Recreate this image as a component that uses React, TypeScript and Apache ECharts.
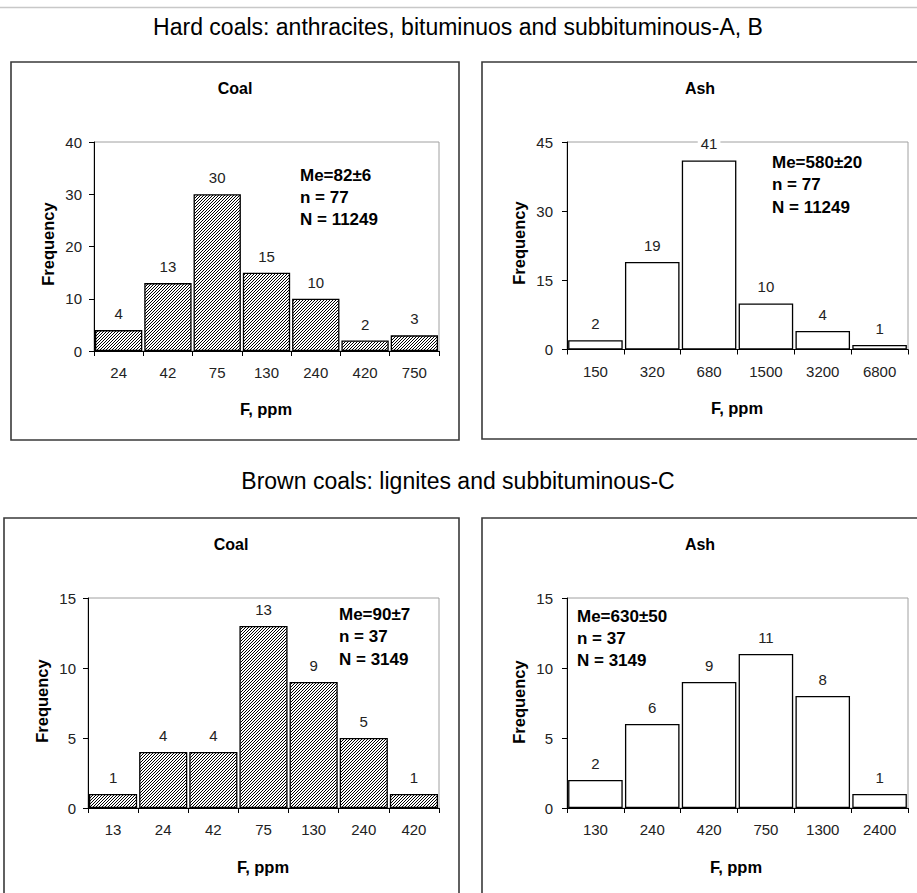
import React, { useEffect, useRef } from 'react';
import * as echarts from 'echarts';

const W = 917;
const H = 893;

// ---- data ----
const hardCoalCats = ['24', '42', '75', '130', '240', '420', '750'];
const hardCoalFreq = [4, 13, 30, 15, 10, 2, 3];
const hardAshCats = ['150', '320', '680', '1500', '3200', '6800'];
const hardAshFreq = [2, 19, 41, 10, 4, 1];
const brownCoalCats = ['13', '24', '42', '75', '130', '240', '420'];
const brownCoalFreq = [1, 4, 4, 13, 9, 5, 1];
const brownAshCats = ['130', '240', '420', '750', '1300', '2400'];
const brownAshFreq = [2, 6, 9, 11, 8, 1];

const yMaxes = [40, 45, 15, 15];
const yIntervals = [10, 15, 5, 5];

const statsHardCoal = ['Me=82±6', 'n = 77', 'N = 11249'];
const statsHardAsh = ['Me=580±20', 'n = 77', 'N = 11249'];
const statsBrownCoal = ['Me=90±7', 'n = 37', 'N = 3149'];
const statsBrownAsh = ['Me=630±50', 'n = 37', 'N = 3149'];

const titleHard = 'Hard coals: anthracites, bituminuos and subbituminous-A, B';
const titleBrown = 'Brown coals: lignites and subbituminous-C';
const panelTitles = ['Coal', 'Ash', 'Coal', 'Ash'];
const yName = 'Frequency';
const xName = 'F, ppm';

// ---- layout ----
const layout = [
  { grid: { left: 94, top: 142, width: 345, height: 209 }, box: [11, 62, 448, 378], title: [235, 88], stats: [300, 175], yName: [48, 244], xName: [266, 409], yMargin: 12, hatched: true },
  { grid: { left: 567, top: 142, width: 341, height: 207.5 }, box: [482, 62, 440, 377], title: [700, 88], stats: [772, 162.5], yName: [519, 243], xName: [737, 408], yMargin: 14, hatched: false },
  { grid: { left: 88, top: 598, width: 351, height: 210 }, box: [4, 518, 455, 400], title: [231, 544], stats: [339, 614.5], yName: [42, 701], xName: [263, 867], yMargin: 12, hatched: true },
  { grid: { left: 567, top: 598, width: 341, height: 210 }, box: [482, 518, 440, 400], title: [700, 544], stats: [577, 616], yName: [519, 702], xName: [736, 867], yMargin: 14, hatched: false },
];

const catsList = [hardCoalCats, hardAshCats, brownCoalCats, brownAshCats];
const valsList = [hardCoalFreq, hardAshFreq, brownCoalFreq, brownAshFreq];
const statsList = [statsHardCoal, statsHardAsh, statsBrownCoal, statsBrownAsh];

const SANS = 'Liberation Sans';

function makeHatch(): string {
  const c = document.createElement('canvas');
  c.width = 3;
  c.height = 3;
  const ctx = c.getContext('2d')!;
  ctx.fillStyle = '#fff';
  ctx.fillRect(0, 0, 3, 3);
  ctx.fillStyle = '#000';
  ctx.fillRect(0, 2, 1, 1);
  ctx.fillRect(1, 1, 1, 1);
  ctx.fillRect(2, 0, 1, 1);
  return c.toDataURL();
}

function txt(text: string, x: number, y: number, opts: any = {}) {
  const align = opts.align || 'center';
  return {
    type: 'text',
    x,
    y,
    rotation: opts.rotation || 0,
    silent: true,
    z: 100,
    style: {
      text,
      fill: opts.fill || '#000',
      fontFamily: SANS,
      fontSize: opts.fontSize || 15,
      fontWeight: opts.fontWeight || 'normal',
      align,
      verticalAlign: 'middle',
      textAlign: align,
      textVerticalAlign: 'middle',
    },
  };
}

export default function App() {
  const ref = useRef<HTMLDivElement>(null);

  useEffect(() => {
    document.body.style.margin = '0';
    const chart = echarts.init(ref.current!, null, { renderer: 'svg', width: W, height: H });
    const hatch = { image: makeHatch(), repeat: 'repeat', imageWidth: 3, imageHeight: 3 };

    const graphics: any[] = [];
    graphics.push({
      type: 'line',
      silent: true,
      shape: { x1: 0, y1: 7.5, x2: W, y2: 7.5 },
      style: { stroke: '#c8c8c8', lineWidth: 1.5 },
    });
    graphics.push(txt(titleHard, 458, 27, { fontSize: 23 }));
    graphics.push(txt(titleBrown, 458, 481, { fontSize: 23 }));

    layout.forEach((L, i) => {
      graphics.push({
        type: 'rect',
        silent: true,
        shape: { x: L.box[0], y: L.box[1], width: L.box[2], height: L.box[3] },
        style: { fill: 'none', stroke: '#3a3a3a', lineWidth: 1.6 },
      });
      graphics.push(txt(panelTitles[i], L.title[0], L.title[1], { fontWeight: 'bold', fontSize: 16 }));
      graphics.push(txt(yName, L.yName[0], L.yName[1], { fontWeight: 'bold', fontSize: 16.5, rotation: Math.PI / 2 }));
      graphics.push(txt(xName, L.xName[0], L.xName[1], { fontWeight: 'bold', fontSize: 16.5 }));
      statsList[i].forEach((s, k) => {
        graphics.push(txt(s, L.stats[0], L.stats[1] + k * 22.3, { fontWeight: 'bold', fontSize: 17, align: 'left' }));
      });
    });

    const option: any = {
      animation: false,
      tooltip: { show: false },
      grid: layout.map((L) => ({
        ...L.grid,
        show: true,
        borderColor: '#a0a0a0',
        borderWidth: 1,
        backgroundColor: 'transparent',
        containLabel: false,
      })),
      xAxis: layout.map((L, i) => ({
        type: 'category',
        gridIndex: i,
        data: catsList[i],
        axisLine: { show: true, lineStyle: { color: '#000', width: 1 } },
        axisTick: { show: true, length: 5, lineStyle: { color: '#000' } },
        axisLabel: { interval: 0, fontFamily: SANS, fontSize: 15, color: '#222', margin: 14 },
        splitLine: { show: false },
      })),
      yAxis: layout.map((L, i) => ({
        type: 'value',
        gridIndex: i,
        min: 0,
        max: yMaxes[i],
        interval: yIntervals[i],
        axisLine: { show: true, lineStyle: { color: '#000', width: 1 } },
        axisTick: { show: true, length: 5, lineStyle: { color: '#000' } },
        axisLabel: { fontFamily: SANS, fontSize: 15, color: '#222', margin: L.yMargin },
        splitLine: { show: false },
      })),
      series: layout.map((L, i) => ({
        type: 'bar',
        xAxisIndex: i,
        yAxisIndex: i,
        data: valsList[i],
        barCategoryGap: '4%',
        silent: true,
        itemStyle: {
          color: L.hatched ? hatch : '#fff',
          borderColor: '#000',
          borderWidth: 1.3,
        },
        label: {
          show: true,
          position: 'top',
          distance: 9,
          fontFamily: SANS,
          fontSize: 15,
          color: '#222',
          backgroundColor: '#fff',
          padding: [0, 3],
        },
        emphasis: { disabled: true },
      })),
      graphic: graphics,
    };
    chart.setOption(option);
    return () => chart.dispose();
  }, []);

  return (
    <div
      ref={ref}
      style={{ position: 'absolute', left: 0, top: 0, width: W, height: H, background: '#fff' }}
    />
  );
}
